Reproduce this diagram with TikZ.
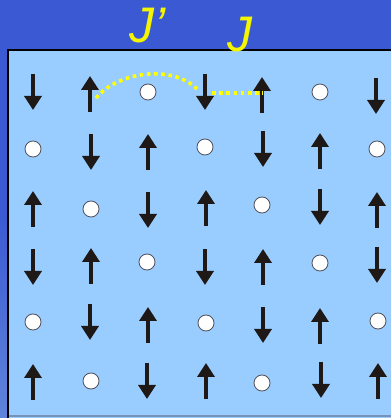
\documentclass[tikz,border=0pt]{standalone}
\usepackage{fontspec}
\setmainfont{Liberation Sans}
\usetikzlibrary{arrows.meta}
\definecolor{bgtop}{RGB}{58,89,210}
\definecolor{bgbot}{RGB}{95,132,218}
\definecolor{panel}{RGB}{153,204,255}
\definecolor{spin}{RGB}{30,25,22}
\definecolor{bondy}{RGB}{255,255,0}
\definecolor{jy}{RGB}{245,245,0}
\definecolor{sitering}{RGB}{80,80,90}
\definecolor{bottomline}{RGB}{120,145,185}
\tikzset{
  spinarrow/.style={draw=spin, line width=3.4pt, -{Triangle[width=17pt,length=14pt]}},
  site/.style={circle, draw=sitering, line width=0.8pt, fill=white, minimum size=16pt, inner sep=0pt},
  bond/.style={draw=bondy, line width=3.6pt, dash pattern=on 3.6pt off 3.6pt},
  jlabel/.style={text=jy, font=\fontsize{50}{50}\selectfont\itshape, inner sep=0pt}
}
\newcommand{\spinup}[2]{\draw[spinarrow] (#1,{418-#2-18}) -- (#1,{418-#2+18});}
\newcommand{\spindn}[2]{\draw[spinarrow] (#1,{418-#2+18}) -- (#1,{418-#2-18});}
\newcommand{\hole}[3]{\node[site] (#3) at (#1,{418-#2}) {};}
\begin{document}
\begin{tikzpicture}[x=1pt,y=1pt]
\useasboundingbox (0,0) rectangle (391,418);
\shade[top color=bgtop, bottom color=bgbot, middle color=bgtop] (0,0) rectangle (391,418);
\fill[bgtop] (0,418) rectangle (391,300);
\fill[panel] (7,0) rectangle (391,368);
\draw[black, line width=2pt] (8,0) -- (8,368) -- (391,368);
\draw[bottomline, line width=2pt] (9,2) -- (391,2);
% row 1
\spindn{33}{92} \spinup{90}{94} \hole{148}{92}{s13} \spindn{205}{92} \spinup{262}{95} \hole{320}{92}{s16} \spindn{376}{96}
% row 2
\hole{33}{149}{s21} \spindn{91}{152} \spinup{148}{152} \hole{205}{147}{s24} \spindn{263}{149} \spinup{320}{151} \hole{377}{149}{s27}
% row 3
\spinup{33}{209} \hole{91}{209}{s32} \spindn{148}{210} \spinup{206}{208} \hole{262}{205}{s35} \spindn{320}{207} \spinup{377}{210}
% row 4
\spindn{33}{267} \spinup{91}{266} \hole{147}{262}{s43} \spindn{205}{267} \spinup{263}{267} \hole{320}{263}{s46} \spindn{377}{265}
% row 5
\hole{33}{322}{s51} \spindn{90}{322} \spinup{148}{325} \hole{206}{323}{s54} \spindn{263}{325} \spinup{320}{326} \hole{378}{321}{s57}
% row 6
\spinup{33}{382} \hole{91}{381}{s62} \spindn{147}{381} \spinup{206}{381} \hole{262}{383}{s65} \spindn{321}{380} \spinup{378}{381}
% bonds
\coordinate (b1) at (96,320);
\coordinate (b2) at (198,328);
\coordinate (b3) at (212,325);
\coordinate (b4) at (263,325);
\draw[bond] (b1) .. controls (120,348) and (175,353) .. (b2);
\draw[bond] (b3) -- (b4);
% labels
\node[jlabel, anchor=base west] (jp) at (129,375) {J’};
\node[jlabel, anchor=base west] (jj) at (227,366) {J};
\end{tikzpicture}
\end{document}
